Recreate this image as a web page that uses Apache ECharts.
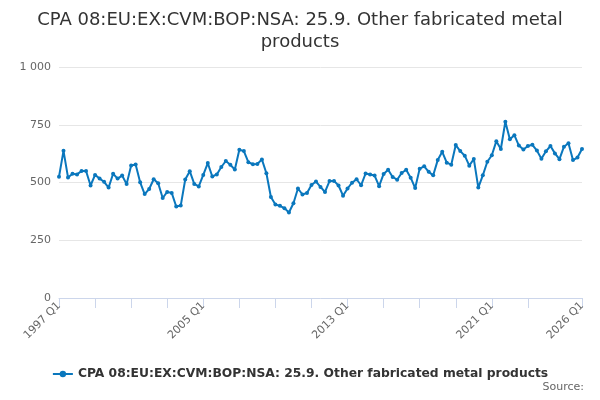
<!DOCTYPE html>
<html>
<head>
<meta charset="utf-8">
<script src="https://cdn.jsdelivr.net/npm/echarts@6/dist/echarts.min.js"></script>
<style>
  html, body { margin: 0; padding: 0; background: #fff; }
  #chart { width: 600px; height: 400px; }
</style>
</head>
<body>
<div id="chart"></div>
<script type="text/javascript">
  // quarterly series, 1997 Q1 .. 2026 Q1
  var firstYear = 1997;
  var values = [
    525, 637, 522, 538, 535, 550, 550, 487, 533, 517, 503, 478,
    538, 517, 530, 493, 574, 578, 501, 450, 472, 514, 497, 433,
    459, 455, 396, 400, 513, 549, 494, 483, 533, 584, 526, 535,
    567, 593, 577, 556, 642, 636, 588, 579, 580, 600, 540, 437,
    405, 399, 389, 370, 410, 474, 448, 455, 489, 504, 481, 459,
    506, 507, 487, 443, 474, 499, 514, 488, 539, 535, 530, 484,
    537, 555, 524, 512, 541, 555, 521, 476, 560, 570, 546, 531,
    597, 633, 586, 577, 662, 636, 616, 573, 602, 478, 531, 590,
    618, 679, 645, 763, 687, 705, 660, 643, 658, 663, 638, 603,
    635, 658, 626, 601, 655, 670, 597, 608, 645
  ];
  var labelShown = ['1997 Q1', '2005 Q1', '2013 Q1', '2021 Q1', '2026 Q1'];
  var yTicks = [0, 250, 500, 750, 1000];
  var titleLines = ['CPA 08:EU:EX:CVM:BOP:NSA: 25.9. Other fabricated metal', 'products'];
  var seriesName = 'CPA 08:EU:EX:CVM:BOP:NSA: 25.9. Other fabricated metal products';

  var categories = [];
  for (var i = 0; i < values.length; i++) {
    categories.push((firstYear + Math.floor(i / 4)) + ' Q' + (i % 4 + 1));
  }
  var last = categories.length - 1;

  var chart = echarts.init(document.getElementById('chart'));
  var font = 'DejaVu Sans, sans-serif';
  var titleStyle = { fontFamily: font, fontSize: 18, fontWeight: 'normal', color: '#333' };

  var option = {
    animation: false,
    textStyle: { fontFamily: font },
    title: [
      { text: titleLines[0], left: 'center', top: 6, textStyle: titleStyle },
      { text: titleLines[1], left: 'center', top: 28, textStyle: titleStyle },
      {
        text: 'Source:',
        right: 11,
        bottom: 2,
        textStyle: { fontFamily: font, fontSize: 11, fontWeight: 'normal', color: '#666' }
      }
    ],
    legend: {
      bottom: 15,
      left: 'center',
      itemWidth: 20,
      itemHeight: 8,
      textStyle: { fontFamily: font, fontSize: 12.3, fontWeight: 'bold', color: '#333' },
      data: [seriesName]
    },
    grid: { left: 59, right: 18, top: 67, bottom: 102 },
    xAxis: {
      type: 'category',
      boundaryGap: false,
      data: categories,
      axisLine: { show: true, lineStyle: { color: '#ccd6eb' } },
      axisTick: {
        show: true,
        length: 10,
        lineStyle: { color: '#ccd6eb' },
        interval: function (idx) { return (idx % 8 === 0 && idx < 112) || idx === last; }
      },
      axisLabel: {
        rotate: 45,
        margin: 6,
        color: '#666',
        fontSize: 11,
        fontFamily: font,
        interval: function (idx, val) { return labelShown.indexOf(val) >= 0; }
      },
      splitLine: { show: false }
    },
    yAxis: {
      type: 'value',
      min: yTicks[0],
      max: yTicks[yTicks.length - 1],
      interval: 250,
      axisLine: { show: false },
      axisTick: { show: false },
      axisLabel: {
        color: '#666',
        fontSize: 11,
        fontFamily: font,
        margin: 8,
        formatter: function (v) { return String(v).replace(/\B(?=(\d{3})+(?!\d))/g, ' '); }
      },
      splitLine: { lineStyle: { color: '#e6e6e6' } }
    },
    series: [
      {
        name: seriesName,
        type: 'line',
        data: values,
        color: '#0a77bd',
        lineStyle: { width: 2 },
        symbol: 'circle',
        symbolSize: 4,
        showSymbol: true,
        showAllSymbol: true
      }
    ]
  };
  chart.setOption(option);
</script>
</body>
</html>
